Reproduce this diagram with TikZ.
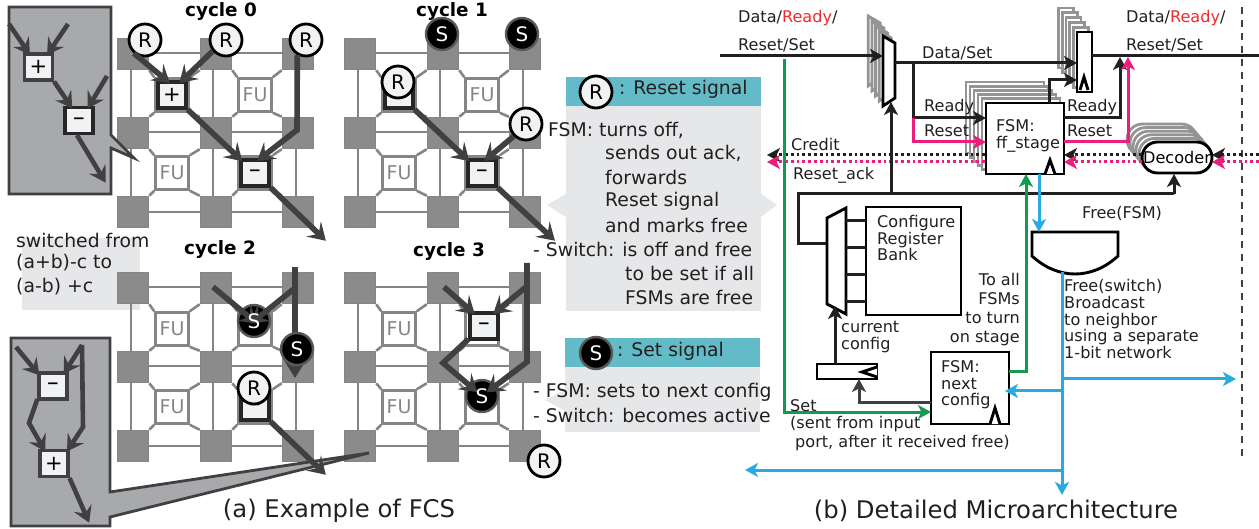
\documentclass[tikz,border=0pt]{standalone}
\usepackage{fontspec}
\setmainfont{DejaVu Sans}
\usetikzlibrary{arrows.meta}

\begin{document}
\begin{tikzpicture}[x=1pt,y=-1pt]

\definecolor{darkc}{HTML}{404040}
\definecolor{blackc}{HTML}{231F20}
\definecolor{squarec}{HTML}{8C8B8C}
\definecolor{linec}{HTML}{858585}
\definecolor{insetc}{HTML}{A7A9AC}
\definecolor{boxc}{HTML}{F1F2F4}
\definecolor{panelc}{HTML}{E6E7E9}
\definecolor{tealc}{HTML}{63BBC7}
\definecolor{greenc}{HTML}{109B50}
\definecolor{pinkc}{HTML}{EC1E7C}
\definecolor{bluec}{HTML}{29ABE2}
\definecolor{readyc}{HTML}{EE2A2E}
\definecolor{copyc}{HTML}{949494}

\tikzstyle{square}=[draw=linec, fill=squarec, line width=1.5pt, minimum size=31pt, inner sep=0]
\tikzstyle{gridline}=[line width=2.6pt, color=linec]
\tikzstyle{fubox}=[draw=linec, fill=white, line width=2.6pt, minimum size=33pt, inner sep=0]
\tikzstyle{futext}=[color=linec, font=\fontsize{19}{19}\selectfont, inner sep=0]
\tikzstyle{opbox}=[draw=black!85, fill=boxc, line width=3.2pt, minimum width=28pt, minimum height=26pt, inner sep=0]
\tikzstyle{rnode}=[circle, draw=black, fill=boxc, line width=2.8pt, minimum size=32pt, inner sep=0, font=\fontsize{20}{20}\selectfont]
\tikzstyle{snode}=[circle, draw=black!65, fill=black, line width=2.4pt, minimum size=32pt, inner sep=0, text=white, font=\fontsize{20}{20}\selectfont]
\tikzstyle{stext}=[inner sep=0, text=white, font=\fontsize{20}{20}\selectfont]
\tikzstyle{sigline}=[line width=5.6pt, color=darkc]
\tikzstyle{sigarrow}=[sigline, -{Stealth[length=17pt,width=21pt,inset=7pt]}, shorten >=-4pt]
\tikzstyle{insetline}=[line width=4.6pt, color=darkc]
\tikzstyle{insetarrow}=[insetline, -{Stealth[length=16pt,width=19pt,inset=6pt]}, shorten >=-3pt]
\tikzstyle{insetbox}=[draw=darkc, fill=insetc, line width=2.8pt]
\tikzstyle{title}=[inner sep=0, font=\fontsize{18.4}{18}\selectfont\bfseries, color=black]
\tikzstyle{paneltext}=[inner sep=0, anchor=west, font=\fontsize{18.8}{19}\selectfont, color=blackc]
\tikzstyle{captext}=[inner sep=0, font=\fontsize{24.3}{25}\selectfont, color=blackc]
\tikzstyle{wiretext}=[inner sep=0, anchor=west, align=left, yshift=-1pt, font=\fontsize{16.1}{16.6}\selectfont, color=blackc]
\tikzstyle{wire}=[line width=3pt, color=blackc]
\tikzstyle{wirearrow}=[wire, -{Stealth[length=13pt,width=14pt,inset=3.5pt]}]
\tikzstyle{greenarrow}=[wirearrow, color=greenc]
\tikzstyle{pinkarrow}=[wirearrow, color=pinkc]
\tikzstyle{bluearrow}=[wirearrow, color=bluec]
\tikzstyle{dotline}=[wirearrow, dash pattern=on 2.9pt off 2.9pt]
\tikzstyle{regbox}=[draw=black, fill=white, line width=2.9pt, inner sep=0]
\tikzstyle{copyline}=[draw=copyc, fill=white, line width=2.8pt]

\useasboundingbox (0,0) rectangle (1259,529);

\def\fabric#1#2#3{
\begin{scope}[shift={#1}]
    \draw[gridline] (131,38) -- (131,228);
    \draw[gridline] (213,38) -- (213,228);
    \draw[gridline] (296,38) -- (296,228);
    \draw[gridline] (133,53) -- (298,53);
    \draw[gridline] (133,132) -- (298,132);
    \draw[gridline] (133,212) -- (298,212);
    \foreach \r/\y in {1/54, 2/133, 3/212} {
        \foreach \c/\x in {1/133, 2/216, 3/298} {
            \node[square] (#2g\r\c) at (\x,\y) {};
        };
    };
    \node[fubox] (#2tl) at (172,95) {};
    \node[fubox] (#2tr) at (255,95) {};
    \node[fubox] (#2bl) at (172,173) {};
    \node[fubox] (#2br) at (255,173) {};
    \draw[gridline] (#2tl.north west) -- (#2g11.south east);
    \draw[gridline] (#2tl.north east) -- (#2g12.south west);
    \draw[gridline] (#2tl.south west) -- (#2g21.north east);
    \draw[gridline] (#2tl.south east) -- (#2g22.north west);
    \draw[gridline] (#2tr.north west) -- (#2g12.south east);
    \draw[gridline] (#2tr.north east) -- (#2g13.south west);
    \draw[gridline] (#2tr.south west) -- (#2g22.north east);
    \draw[gridline] (#2tr.south east) -- (#2g23.north west);
    \draw[gridline] (#2bl.north west) -- (#2g21.south east);
    \draw[gridline] (#2bl.north east) -- (#2g22.south west);
    \draw[gridline] (#2bl.south west) -- (#2g31.north east);
    \draw[gridline] (#2bl.south east) -- (#2g32.north west);
    \draw[gridline] (#2br.north west) -- (#2g22.south east);
    \draw[gridline] (#2br.north east) -- (#2g23.south west);
    \draw[gridline] (#2br.south west) -- (#2g32.north east);
    \draw[gridline] (#2br.south east) -- (#2g33.north west);
    \foreach \f in {#3} {
        \node[futext] (#2\f text) at (#2\f) {FU};
    };
\end{scope}
}

\def\muxcopy#1{
\begin{scope}[shift={#1}]
    \draw[copyline] (883,36) -- (895,43) -- (895,98) -- (883,106) -- cycle;
\end{scope}
}

\def\boxcopy#1#2#3#4#5{
\begin{scope}[shift={#1}]
    \draw[copyline] (#2,#3) rectangle (#4,#5);
\end{scope}
}

% panels
\fill[panelc] (22,238) rectangle (140,310);
\fill[panelc] (566,106) rectangle (761,311);
\fill[panelc] (566,194) -- (547,205) -- (566,217) -- cycle;
\fill[panelc] (761,194) -- (777,205) -- (761,217) -- cycle;
\fill[tealc] (566,77) rectangle (761,106);
\fill[panelc] (565,367) rectangle (760,432);
\fill[panelc] (565,390) -- (545,400) -- (565,411) -- cycle;
\fill[tealc] (565,338) rectangle (760,367);

\fabric{(0,0)}{c0}{tr,bl}
\fabric{(227,0)}{c1}{tr,bl}
\fabric{(0,234)}{c2}{tl,bl}
\fabric{(227,234)}{c3}{tl,bl}

\node[title] (cycle0) at (221,11) {cycle 0};
\node[title] (cycle1) at (452,11) {cycle 1};
\node[title] (cycle2) at (220,249) {cycle 2};
\node[title] (cycle3) at (449,251) {cycle 3};

% insets
\draw[insetbox] (9,7) -- (111,7) -- (111,135) -- (134,158) -- (111,148) -- (111,194) -- (9,194) -- cycle;
\draw[insetbox] (11,338) -- (110,338) -- (110,492) -- (369,453) -- (110,517) -- (110,526) -- (11,526) -- cycle;

\node[opbox, draw=darkc] (i1plus) at (38.5,67) {\fontsize{21}{21}\selectfont +};
\node[opbox] (i1minus) at (79,120.5) {\fontsize{15}{15}\selectfont\bfseries −};
\coordinate (i1a) at (9,24);
\coordinate (i1b) at (68,24);
\coordinate (i1c) at (107,76);
\coordinate (i1d) at (104,180);
\draw[insetarrow] (i1a) -- (i1plus.125);
\draw[insetarrow] (i1b) -- (i1plus.55);
\draw[insetarrow] (i1plus.south east) -- (i1minus.120);
\draw[insetarrow] (i1c) -- (i1minus.55);
\draw[insetarrow] (i1minus.south) ++(-2,0) -- (i1d);

\node[opbox, draw=darkc] (i2minus) at (53,386) {\fontsize{15}{15}\selectfont\bfseries −};
\node[opbox, draw=darkc] (i2plus) at (54,463.5) {\fontsize{21}{21}\selectfont +};
\coordinate (i2a) at (16,347);
\coordinate (i2b) at (82,345);
\coordinate (i2c) at (83,427);
\coordinate (i2d) at (29,423);
\coordinate (i2e) at (88,520);
\draw[insetarrow] (i2a) -- (i2minus.140);
\draw[insetarrow] (i2b) -- (i2minus.50);
\draw[insetarrow] (i2b) -- (i2c) -- (i2plus.45);
\draw[insetarrow] (i2minus.220) -- (i2d) -- (i2plus.125);
\draw[insetarrow] (i2plus.south east) -- (i2e);

% cycle 0
\node[opbox] (c0plus) at (c0tl) {\fontsize{21}{21}\selectfont +};
\node[opbox] (c0minus) at (c0br) {\fontsize{15}{15}\selectfont\bfseries −};
\node[rnode] (c0r1) at (145,40) {R};
\node[rnode] (c0r2) at (226,40) {R};
\node[rnode] (c0r3) at (306,40) {R};
\coordinate (c0a) at (297,130);
\coordinate (c0b) at (323,238);
\draw[sigarrow] (c0r1.230) -- (c0plus.110);
\draw[sigarrow] (c0r2.220) -- (c0plus.55);
\draw[sigarrow] (c0r3.240) -- (c0a) -- (c0minus.70);
\draw[sigarrow] (c0plus.south east) -- (c0minus.north west);
\draw[sigarrow] (c0minus.south east) -- (c0b);

% cycle 1
\node[opbox] (c1plus) at (c1tl) {};
\node[opbox] (c1minus) at (c1br) {\fontsize{15}{15}\selectfont\bfseries −};
\node[rnode] (c1r1) at (398,82) {R};
\node[rnode] (c1r2) at (526,124) {R};
\node[snode] (c1s1) at (442,34) {S};
\node[snode] (c1s2) at (522,34) {S};
\coordinate (c1a) at (552,238);
\draw[sigarrow] (c1plus.south east) -- (c1minus.north west);
\draw[sigarrow] (c1r2.225) -- (c1minus.70);
\draw[sigarrow] (c1minus.south east) -- (c1a);

% cycle 2
\node[opbox] (c2minus) at (c2br) {\fontsize{15}{15}\selectfont\bfseries −};
\node[rnode] (c2r) at (254,388) {R};
\node[snode] (c2s1) at (254,321) {};
\coordinate (c2a) at (213,287);
\coordinate (c2b) at (295,267);
\coordinate (c2c) at (295,288);
\coordinate (c2d) at (295,378);
\coordinate (c2e) at (323,472);
\draw[sigarrow] (c2a) -- (c2s1.center);
\draw[sigarrow] (c2c) -- (c2s1.center);
\draw[sigarrow, shorten >=0pt] (c2b) -- (c2d);
\draw[sigarrow] (c2minus.south east) -- (c2e);
\node[stext] (c2s1text) at (c2s1) {S};
\node[snode] (c2s2) at (297,349) {S};

% cycle 3
\node[opbox] (c3minus) at (484,326) {\fontsize{15}{15}\selectfont\bfseries −};
\node[snode] (c3s) at (482,396) {};
\node[rnode] (c3r) at (544,461) {R};
\coordinate (c3a) at (444,287);
\coordinate (c3b) at (526,287);
\coordinate (c3c) at (527,263);
\coordinate (c3d) at (527,362);
\coordinate (c3e) at (443,363);
\draw[sigarrow] (c3a) -- (c3minus.130);
\draw[sigarrow] (c3b) -- (c3minus.50);
\draw[sigarrow, shorten >=6pt] (c3c) -- (c3d) -- (c3s.center);
\draw[sigarrow, shorten >=6pt] (c3minus.220) -- (c3e) -- (c3s.center);
\node[stext] (c3stext) at (c3s) {S};

\node[paneltext] (switched) at (16,240) {switched from};
\node[paneltext] (before) at (16,263) {(a+b)-c to};
\node[paneltext] (after) at (16,287) {(a-b) +c};

% signal panels
\node[rnode] (keyr) at (596,92) {R};
\node[paneltext] (keyrtext) at (619,89) {: Reset signal};
\node[snode] (keys) at (596,353) {S};
\node[paneltext] (keystext) at (617,351) {: Set signal};
\node[paneltext] (rline1) at (548,130) {FSM: turns off,};
\node[paneltext] (rline2) at (605,153) {sends out ack,};
\node[paneltext] (rline3) at (605,177) {forwards};
\node[paneltext] (rline4) at (605,201) {Reset signal};
\node[paneltext] (rline5) at (605,225) {and marks free};
\node[paneltext] (rline6) at (533,249) {- Switch: is off and free};
\node[paneltext] (rline7) at (625,273) {to be set if all};
\node[paneltext] (rline8) at (625,297) {FSMs are free};
\node[paneltext] (sline1) at (533,392) {- FSM: sets to next config};
\node[paneltext] (sline2) at (533,415) {- Switch: becomes active};

\node[captext] (capa) at (339,511) {(a) Example of FCS};
\node[captext] (capb) at (996,511) {(b) Detailed Microarchitecture};

% input mux and stage
\foreach \k in {4,3,2,1} {
    \muxcopy{(-3.7*\k,-5*\k)}
};
\draw[regbox] (883,36) -- (895,43) -- (895,98) -- (883,106) -- cycle;
\foreach \k in {5,4,3,2,1} {
    \boxcopy{(-4*\k,-4.2*\k)}{986}{103}{1064}{174}
};
\node[regbox, minimum width=78pt, minimum height=71pt] (ffstage) at (1025,138.5) {};
\node[wiretext] (fftext) at (996,135) {FSM:\\ff\_stage};
\draw[regbox] (1045,174) -- (1050,160) -- (1055,174);
\foreach \k in {5,4,3,2,1} {
    \boxcopy{(-3.7*\k,-4.8*\k)}{1077}{32}{1092}{92}
};
\node[regbox, minimum width=15pt, minimum height=60pt] (outreg) at (1084.5,62) {};
\draw[regbox] (1080,90) -- (1084,77) -- (1088,90);
\begin{scope}[rounded corners=15.5pt]
\foreach \k in {5,4,3,2,1} {
    \boxcopy{(-3*\k,-3.6*\k)}{1142}{142}{1212}{173}
};
\end{scope}
\node[regbox, rounded corners=15.5pt, minimum width=70pt, minimum height=31pt, font=\fontsize{16.1}{16}\selectfont] (decoder) at (1177,157.5) {Decoder};

\draw[line width=2.8pt, dash pattern=on 7pt off 6pt, color=darkc] (1242,7) -- (1242,462);

\coordinate (inleft) at (720,56);
\coordinate (muxin) at (883,56);
\coordinate (muxout) at (895,63);
\coordinate (branch) at (913,63);
\coordinate (readybend) at (913,118);
\coordinate (resetbend) at (913,142);
\coordinate (ffreadyin) at (986,118);
\coordinate (ffresetin) at (986,142);
\coordinate (regin) at (1077,63);
\coordinate (ffup) at (1049,103);
\coordinate (ffupbend) at (1049,80);
\coordinate (regclk) at (1077,80);
\coordinate (regout) at (1092,56);
\coordinate (rightend) at (1259,56);
\coordinate (ffreadyout) at (1064,118);
\coordinate (ffresetout) at (1064,142);
\coordinate (readyout) at (1120,118);
\coordinate (readytip) at (1120,57);
\coordinate (resetout) at (1128,142);
\coordinate (resettip) at (1128,57);

\draw[wirearrow] (inleft) -- (muxin);
\draw[wire] (muxout) -- (branch) -- (readybend);
\draw[wirearrow] (branch) -- (regin);
\draw[wirearrow] (readybend) -- (ffreadyin);
\draw[pinkarrow] (readybend) -- (resetbend) -- (ffresetin);
\draw[wirearrow] (ffup) -- (ffupbend) -- (regclk);
\draw[wire] (regout) -- (rightend);
\draw[wirearrow] (ffreadyout) -- (readyout) -- (readytip);
\draw[pinkarrow] (ffresetout) -- (resetout) -- (resettip);

% credit and reset_ack
\coordinate (ffcredit) at (985,155);
\coordinate (leftcredit) at (767,155);
\coordinate (ffack) at (985,162);
\coordinate (leftack) at (767,162);
\coordinate (deccreditl) at (1142,155);
\coordinate (ffcreditr) at (1064,155);
\coordinate (decackl) at (1142,162);
\coordinate (ffackr) at (1064,162);
\coordinate (rightcredit) at (1259,155);
\coordinate (deccreditr) at (1212,155);
\coordinate (rightack) at (1259,162);
\coordinate (decackr) at (1212,162);
\draw[dotline] (ffcredit) -- (leftcredit);
\draw[dotline, color=pinkc] (ffack) -- (leftack);
\draw[dotline] (deccreditl) -- (ffcreditr);
\draw[dotline, color=pinkc] (decackl) -- (ffackr);
\draw[dotline] (rightcredit) -- (deccreditr);
\draw[dotline, color=pinkc] (rightack) -- (decackr);

% free wire
\coordinate (freeleft) at (798,194);
\coordinate (freedec) at (1174,194);
\coordinate (freemux) at (891,194);
\coordinate (muxbottom) at (891,102);
\coordinate (decin) at (1174,174);
\coordinate (cfgturn) at (798,244);
\coordinate (cfgmuxin) at (827,244);
\draw[wirearrow] (freedec) -- (decin);
\draw[wirearrow] (freemux) -- (muxbottom);
\draw[wire] (freedec) -- (freeleft) -- (cfgturn) -- (cfgmuxin);

% configure
\draw[regbox] (827,218) -- (846,208) -- (846,314) -- (827,304) -- cycle;
\node[regbox, minimum width=95pt, minimum height=108pt] (bank) at (913.5,261) {};
\node[wiretext] (banktext) at (877,237) {Configure\\Register\\Bank};
\foreach \y in {221,248,275,302} {
    \draw[wire] (846,\y) -- (866,\y);
};
\node[regbox, minimum width=60pt, minimum height=15pt] (cfgreg) at (847,371.5) {};
\draw[regbox] (877,367) -- (862,372) -- (877,377);
\node[regbox, minimum width=78pt, minimum height=72pt] (ffnext) at (970,388) {};
\node[wiretext] (nexttext) at (941,384) {FSM:\\next\\config};
\draw[regbox] (990,424) -- (995,408) -- (1000,424);
\coordinate (regup) at (835,364);
\coordinate (cfgmuxsel) at (835,306);
\draw[wirearrow] (regup) -- (cfgmuxsel);
\coordinate (nextout) at (931,402);
\coordinate (nextbend) at (859,402);
\coordinate (regsel) at (859,379);
\draw[wirearrow, color=darkc] (nextout) -- (nextbend) -- (regsel);

% set and turn on
\coordinate (settop) at (784,59);
\coordinate (setbend) at (784,412);
\coordinate (nextin) at (931,412);
\coordinate (nextright) at (1009,372);
\coordinate (turnbend) at (1026,372);
\coordinate (fftip) at (1026,174);
\draw[greenarrow] (settop) -- (setbend) -- (nextin);
\draw[greenarrow] (nextright) -- (turnbend) -- (fftip);

% and gate
\draw[regbox] (1032,232) -- (1118,232) -- (1118,256) .. controls (1105,268) and (1090,274) .. (1075,274) .. controls (1060,274) and (1045,268) .. (1032,256) -- cycle;
\coordinate (ffdown) at (1039,174);
\coordinate (gatein) at (1039,232);
\coordinate (gateout) at (1062,272);
\coordinate (bluedown) at (1062,495);
\coordinate (bluer) at (1062,379);
\coordinate (bluertip) at (1236,379);
\coordinate (bluen) at (1062,391);
\coordinate (bluentip) at (1005,391);
\coordinate (bluel) at (1062,470);
\coordinate (blueltip) at (745,470);
\draw[bluearrow] (ffdown) -- (gatein);
\draw[bluearrow] (gateout) -- (bluedown);
\draw[bluearrow] (bluer) -- (bluertip);
\draw[bluearrow] (bluen) -- (bluentip);
\draw[bluearrow] (bluel) -- (blueltip);

% labels
\node[wiretext] (datal1) at (738,17) {Data/{\color{readyc}Ready}/};
\node[wiretext] (datal2) at (738,44) {Reset/Set};
\node[wiretext] (datar1) at (1126,17) {Data/{\color{readyc}Ready}/};
\node[wiretext] (datar2) at (1126,44) {Reset/Set};
\node[wiretext] (dataset) at (922,52) {Data/Set};
\node[wiretext] (readyl) at (924,106) {Ready};
\node[wiretext] (resetl) at (924,130) {Reset};
\node[wiretext] (readyr) at (1067,106) {Ready};
\node[wiretext] (resetr) at (1067,130) {Reset};
\node[wiretext] (credit) at (791,144) {Credit};
\node[wiretext] (resetack) at (793,174) {Reset\_ack};
\node[wiretext] (freefsm) at (1082,212) {Free(FSM)};
\node[wiretext] (freesw) at (1064,318) {Free(switch)\\Broadcast\\to neighbor\\using a separate\\1-bit network};
\node[wiretext] (current) at (841,336) {current\\config};
\node[wiretext, anchor=east, align=right, font=\fontsize{16.1}{19}\selectfont] (toall) at (1020,308.5) {To all\\FSMs\\to turn\\on stage};
\node[wiretext] (setlbl) at (790,405) {Set};
\node[wiretext] (sent1) at (790,423) {(sent from input};
\node[wiretext] (sent2) at (795,442) {port, after it received free)};

\end{tikzpicture}
\end{document}
